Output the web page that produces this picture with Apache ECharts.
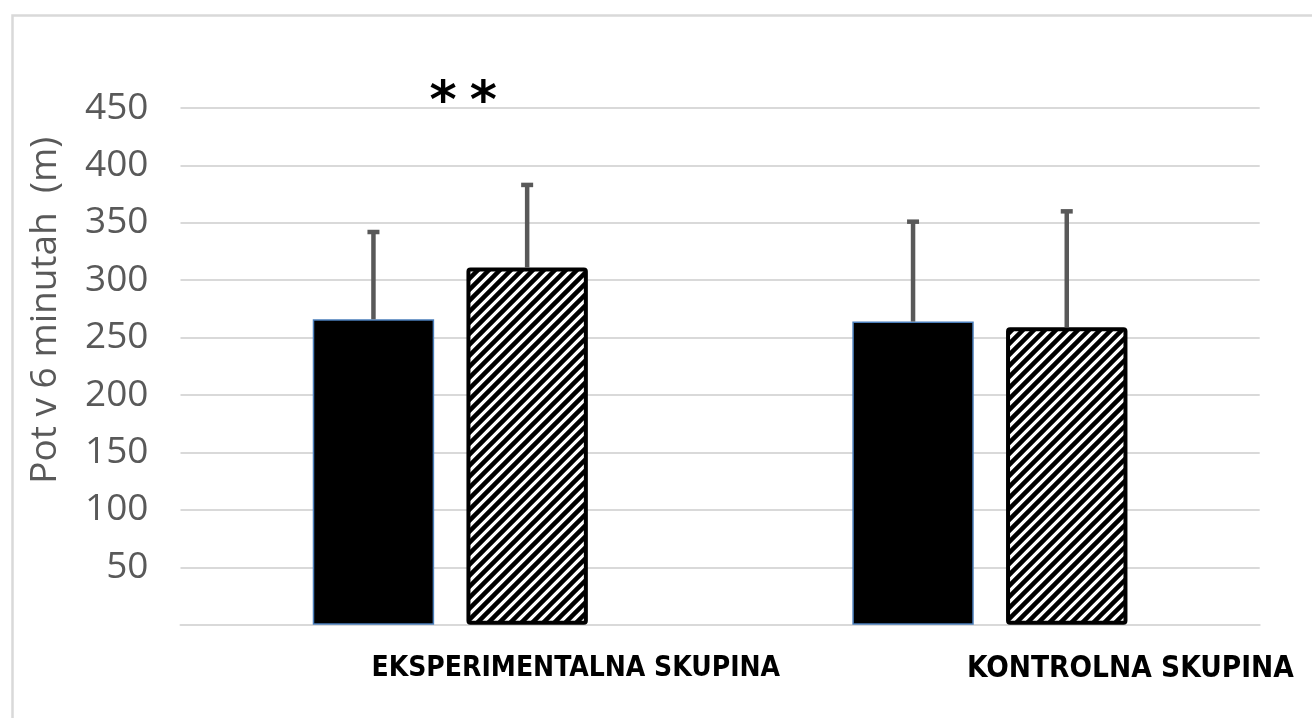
<!DOCTYPE html>
<html>
<head>
<meta charset="utf-8">
<script src="https://cdn.jsdelivr.net/npm/echarts@6/dist/echarts.min.js"></script>
<style>
  html, body { margin: 0; padding: 0; background: #ffffff; }
  #chart { width: 1312px; height: 718px; }
</style>
</head>
<body>
<div id="chart"></div>
<script>
// Groups and measured distances (m) walked in 6 minutes
const categories = ['EKSPERIMENTALNA SKUPINA', 'KONTROLNA SKUPINA'];
const beforeValues = [266, 264];
const afterValues = [311, 259];
const beforeSD = [76, 87];
const afterSD = [72, 101];
const significance = ['**', ''];
const yAxisTitle = 'Pot v 6 minutah  (m)';
const yMin = 0, yMax = 450, yStep = 50;

// Bar geometry (shared by bars and error bars)
const BAR_WIDTH_PCT = 0.225;
const BAR_GAP_PCT = 0.266;

// Diagonal hatch fill for the second series
function makeHatch() {
  const s = 11;
  const c = document.createElement('canvas');
  c.width = s; c.height = s;
  const g = c.getContext('2d');
  g.fillStyle = '#ffffff';
  g.fillRect(0, 0, s, s);
  g.strokeStyle = '#000000';
  g.lineWidth = 4.5;
  g.beginPath();
  g.moveTo(-2, s + 2); g.lineTo(s + 2, -2);
  g.moveTo(-2, 2); g.lineTo(2, -2);
  g.moveTo(s - 2, s + 2); g.lineTo(s + 2, s - 2);
  g.stroke();
  return c;
}

function errorSeries(means, sds, side) {
  return {
    type: 'custom',
    z: 5,
    silent: true,
    data: means.map((m, i) => [i, m, m + sds[i]]),
    renderItem: function (params, api) {
      const band = api.size([1, 0])[0];
      const bw = band * BAR_WIDTH_PCT;
      const off = side * (bw + bw * BAR_GAP_PCT) / 2;
      const base = api.coord([api.value(0), api.value(1)]);
      const top = api.coord([api.value(0), api.value(2)]);
      const x = base[0] + off;
      const style = { stroke: '#595959', lineWidth: 4.5, lineCap: 'butt' };
      return {
        type: 'group',
        children: [
          { type: 'line', shape: { x1: x, y1: base[1], x2: x, y2: top[1] }, style: style },
          { type: 'line', shape: { x1: x - 6, y1: top[1], x2: x + 6, y2: top[1] }, style: style }
        ]
      };
    }
  };
}

const chart = echarts.init(document.getElementById('chart'), null, { renderer: 'canvas' });

const labelFont = '"Liberation Sans Narrow", "DejaVu Sans Condensed", sans-serif';

const option = {
  animation: false,
  backgroundColor: '#ffffff',
  graphic: [{
    type: 'rect',
    left: 10, top: 13,
    shape: { width: 1320, height: 720 },
    style: { fill: 'none', stroke: '#d9d9d9', lineWidth: 2.5 },
    silent: true
  }],
  grid: { left: 180.5, right: 52.3, top: 108, bottom: 93.3, containLabel: false },
  xAxis: {
    type: 'category',
    data: categories,
    axisTick: { show: false },
    axisLine: { show: true, lineStyle: { color: '#d9d9d9', width: 2 } },
    axisLabel: {
      margin: 30,
      formatter: (v, i) => '{c' + i + '|' + v + '}',
      rich: {
        c0: { fontFamily: labelFont, fontWeight: 'bold', fontSize: 28, color: '#000', padding: [0, 0, 0, 251] },
        c1: { fontFamily: labelFont, fontWeight: 'bold', fontSize: 29.5, color: '#000', padding: [0, 0, 0, 281] }
      }
    }
  },
  yAxis: {
    type: 'value',
    min: yMin, max: yMax, interval: yStep,
    name: yAxisTitle,
    nameLocation: 'middle',
    nameGap: 117,
    nameTextStyle: {
      fontFamily: '"Open Sans", sans-serif', fontSize: 37, color: '#595959',
      padding: [0, 0, 0, 112]
    },
    axisLine: { show: false },
    axisTick: { show: false },
    splitLine: { lineStyle: { color: '#d9d9d9', width: 2 } },
    axisLabel: {
      margin: 32,
      fontFamily: '"Open Sans", sans-serif', fontSize: 37, color: '#595959',
      formatter: v => (v === 0 ? '' : String(v))
    }
  },
  series: [
    {
      name: 'Pred',
      type: 'bar',
      data: beforeValues,
      barWidth: (BAR_WIDTH_PCT * 100) + '%',
      barGap: (BAR_GAP_PCT * 100) + '%',
      itemStyle: { color: '#000000', borderColor: '#4a7ebb', borderWidth: 1.5 }
    },
    {
      name: 'Po',
      type: 'bar',
      data: afterValues,
      barWidth: (BAR_WIDTH_PCT * 100) + '%',
      barGap: (BAR_GAP_PCT * 100) + '%',
      itemStyle: {
        color: { image: makeHatch(), repeat: 'repeat' },
        borderColor: '#000000', borderWidth: 4, borderRadius: 2
      },
      markPoint: {
        silent: true,
        symbol: 'circle', symbolSize: 1,
        itemStyle: { color: 'rgba(0,0,0,0)' },
        data: significance.map((s, i) => ({ coord: [i, yMax], value: s })).filter(d => d.value),
        label: {
          show: true, position: 'inside', offset: [-64, -5],
          formatter: p => p.value.split('').join('\u2005'),
          fontFamily: '"DejaVu Sans", sans-serif', fontWeight: 'bold', fontSize: 52, color: '#000'
        }
      }
    },
    errorSeries(beforeValues, beforeSD, -1),
    errorSeries(afterValues, afterSD, 1)
  ]
};

chart.setOption(option);
</script>
</body>
</html>
